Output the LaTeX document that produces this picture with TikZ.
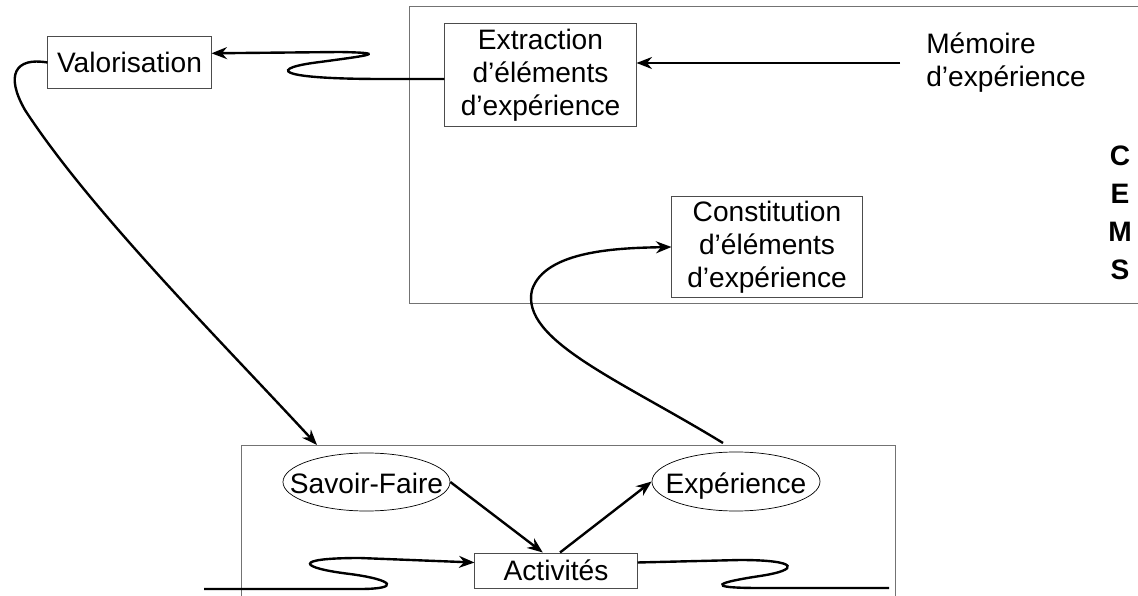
\documentclass[tikz,border=0pt]{standalone}
\usepackage{fontspec}
\setmainfont{Liberation Sans}
\usetikzlibrary{arrows.meta,shapes.geometric}

\begin{document}
\begin{tikzpicture}[x=0.025cm,y=-0.025cm,
    every node/.style={font=\fontsize{20}{23.5}\selectfont},
    zone/.style={draw=black!55,line width=0.7pt,inner sep=0pt},
    boite/.style={draw=black!70,line width=0.7pt,align=center,inner sep=0pt},
    oval/.style={draw,ellipse,line width=0.5pt,inner sep=0pt,text height=18pt,text depth=1pt},
    flot/.style={line width=1.7pt,-{Stealth[length=11pt,width=8.5pt]}},
    fil/.style={line width=1.7pt}]

      \useasboundingbox (0,0) rectangle (1138,596);

      % les deux cadres
      \node[zone,minimum width=18.375cm,minimum height=7.4cm] (cems) at (777.5,155) {};
      \node[zone,minimum width=16.325cm,minimum height=4.35cm] (site) at (568.5,533) {};

      \node[boite,minimum width=4.075cm,minimum height=1.275cm] (valo) at (129.5,62.5) {Valorisation};
      \node[boite,minimum width=4.775cm,minimum height=2.55cm] (extr) at (540.5,75) {Extraction\\d’éléments\\d’expérience};
      \node[align=left,inner xsep=0.65cm,anchor=west] (memo) at (900,63) {Mémoire\\d’expérience};
      \node[boite,minimum width=4.75cm,minimum height=2.5cm] (const) at (767,247) {Constitution\\d’éléments\\d’expérience};
      \node[font=\fontsize{20}{27}\selectfont\bfseries,align=center] (sigle) at (1120,213) {C\\E\\M\\S};

      \node[oval,minimum width=4.175cm,minimum height=1.45cm] (savoir) at (366.5,482) {\makebox[0pt]{Savoir-Faire}};
      \node[oval,minimum width=4.2cm,minimum height=1.475cm] (exper) at (736,481.5) {\makebox[0pt]{Expérience}};
      \node[boite,minimum width=4.05cm,minimum height=0.875cm] (activ) at (556,570.5) {Activités};

      \coordinate (savin) at (317,445);
      \coordinate (expout) at (723,443);
      \coordinate (amont) at (204,589);
      \coordinate (aval) at (889,588);

      \draw[flot] (memo.west) -- (memo.west -| extr.east);
      \draw[flot] ([yshift=-0.1cm]extr.west) -- (383,79) .. controls (270,79) and (270,68) .. (320,62)
            .. controls (372,55) and (388,53) .. (340,52) -- ([yshift=0.23cm]valo.east);
      \draw[flot] (valo.west) .. controls (15,57) and (5,75) .. (25,110) .. controls (90,210) and (220,340) .. (savin);
      \draw[flot] (expout) .. controls (620,380) and (520,340) .. (532,290) .. controls (545,250) and (620,248) .. (const.west);

      \draw[flot] (savoir.east) -- ([xshift=-0.33cm]activ.north);
      \draw[flot] ([xshift=0.1cm]activ.north) -- (exper.west);

      \draw[flot] (amont) -- (360,589) .. controls (400,589) and (395,580) .. (350,574)
            .. controls (300,568) and (290,558) .. (360,558) -- ([yshift=0.2cm]activ.west);
      \draw[fil] ([yshift=0.2cm]activ.east) -- (740,560) .. controls (800,560) and (800,570) .. (760,576)
            .. controls (720,582) and (700,588) .. (760,588) -- (aval);
    \end{tikzpicture}
\end{document}
